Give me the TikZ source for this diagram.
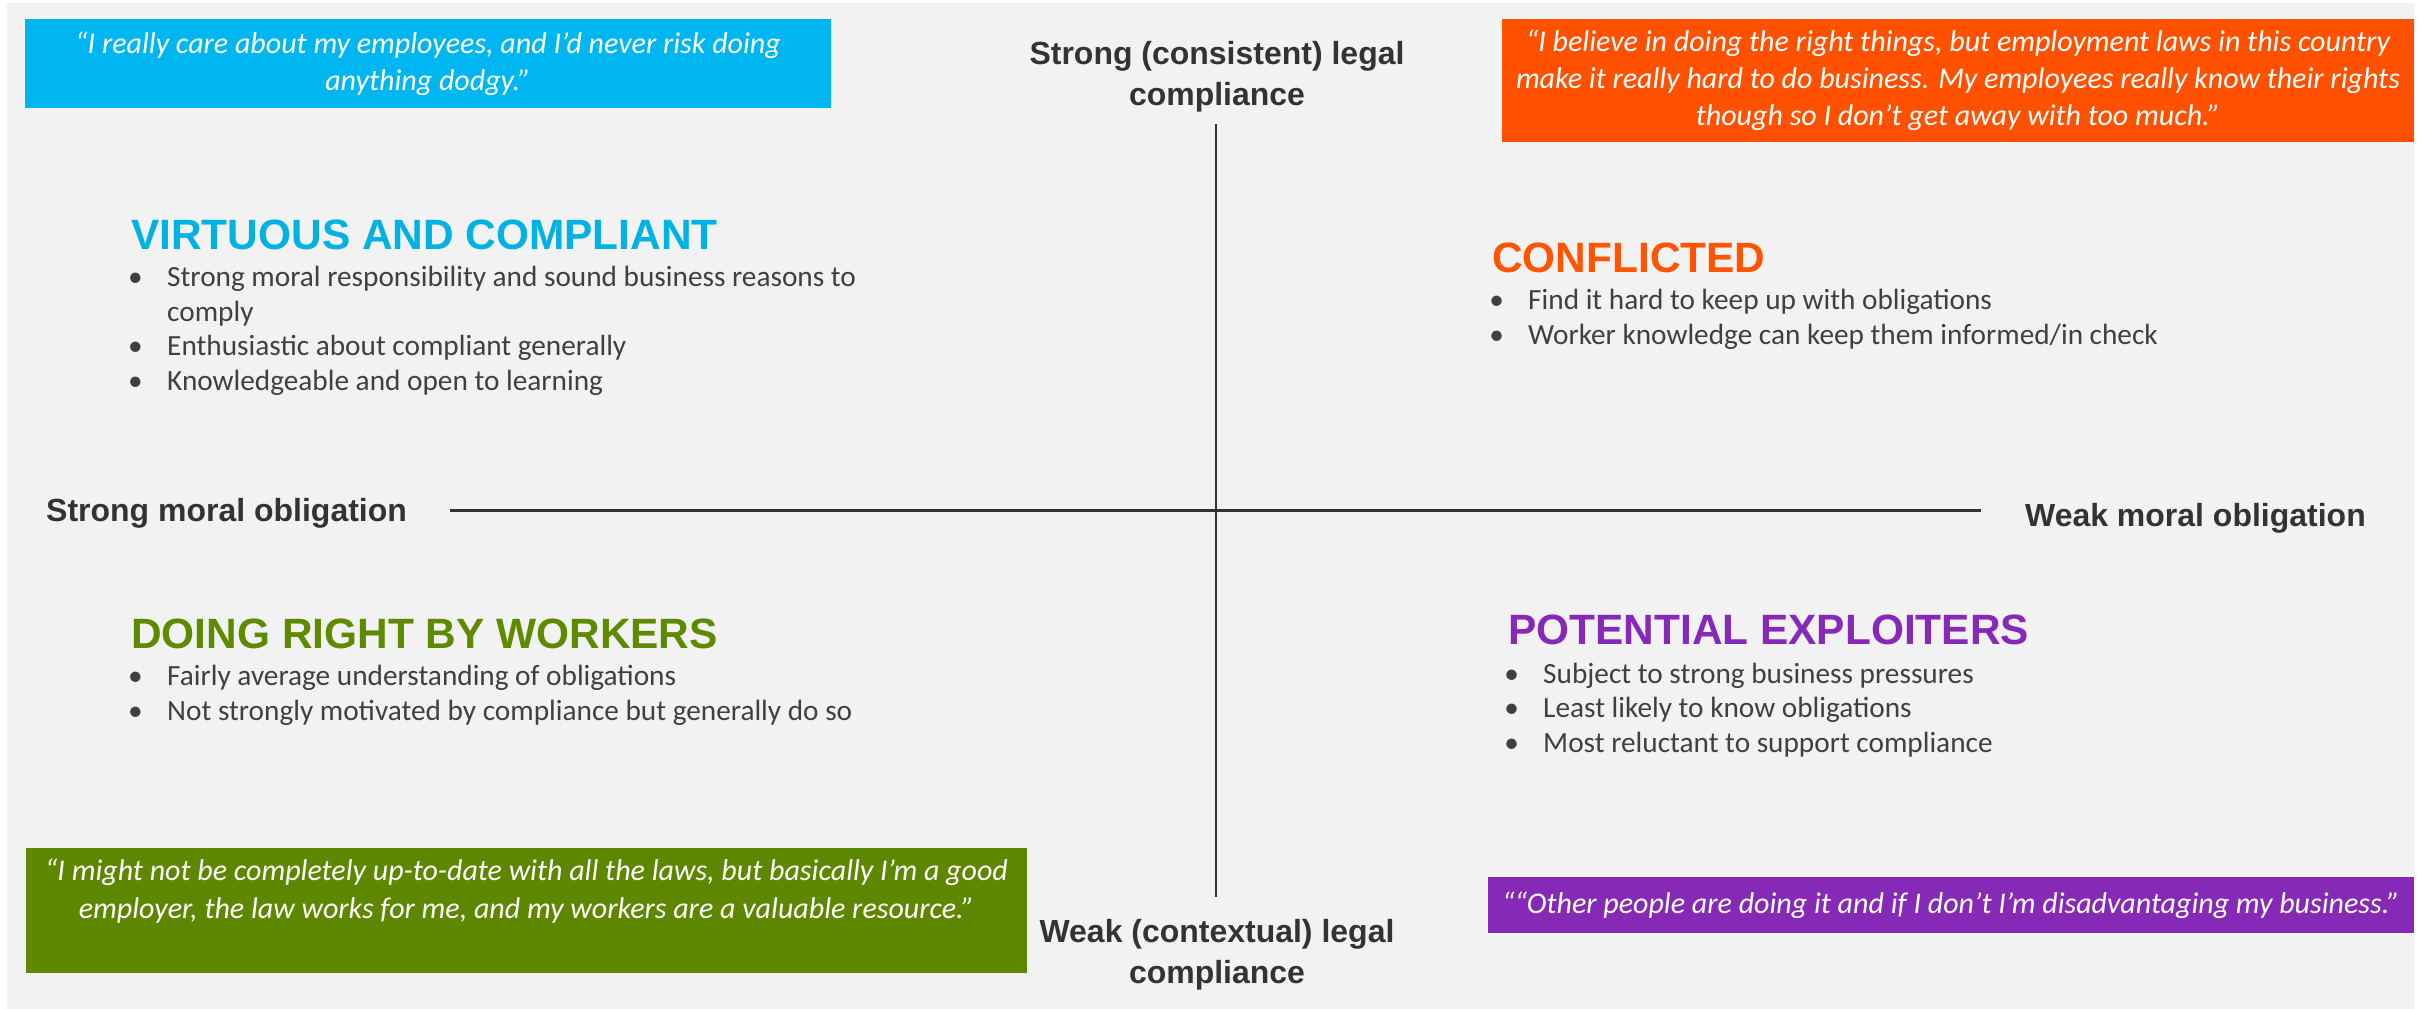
\documentclass[tikz,border=0pt]{standalone}
\usepackage{fontspec}
\setmainfont{Carlito}
\newfontfamily\headfont{Liberation Sans}
\usetikzlibrary{positioning}
\definecolor{Panel}{HTML}{F2F2F2}
\definecolor{Ink}{HTML}{404040}
\definecolor{Axis}{HTML}{333333}
\definecolor{QBlue}{HTML}{00B6F0}
\definecolor{QOrange}{HTML}{FF5100}
\definecolor{QGreen}{HTML}{5E8700}
\definecolor{QPurple}{HTML}{8529B6}
\definecolor{HBlue}{HTML}{00B2E4}
\definecolor{HOrange}{HTML}{FF5500}
\definecolor{HGreen}{HTML}{5E8A00}
\definecolor{HPurple}{HTML}{8629B8}
\newcommand\bul{\makebox[11.7mm][l]{•}}
\newcommand\cont{\hspace*{11.7mm}}

\begin{document}
\begin{tikzpicture}[x=0.3mm,y=-0.3mm,
  heading/.style={anchor=base west,inner sep=0pt,
    font=\headfont\bfseries\fontsize{36.2}{43}\selectfont},
  % base anchor of a list = baseline of its last line
  bullets/.style={anchor=base west,inner sep=0pt,align=left,text=Ink,
    font=\fontsize{25}{29.4}\selectfont},
  quotebox/.style={inner sep=0pt,text=white,align=center,
    font=\itshape\fontsize{25.6}{31.6}\selectfont},
  axislabel/.style={inner sep=0pt,align=center,text=Axis,
    font=\headfont\bfseries\fontsize{27.3}{35}\selectfont},
  axisline/.style={draw=Axis}
]
\useasboundingbox (0,0) rectangle (2425,1009);
\fill[Panel] (7,3) rectangle (2415,1009);

% quotes
\node[quotebox,fill=QBlue,minimum width=241.8mm,minimum height=26.7mm] (qblue) at (428,63.5)
  {“I really care about my employees, and I’d never risk doing\\anything dodgy.”};
\node[quotebox,fill=QOrange,minimum width=273.6mm,minimum height=36.9mm] (qorange) at (1958,80.5)
  {“I believe in doing the right things, but employment laws in this country\\make it really hard to do business. My employees really know their rights\\though so I don’t get away with too much.”};
\node[quotebox,fill=QGreen,minimum width=300.3mm,minimum height=37.5mm] (qgreen) at (526.5,910.5) {};
\node[quotebox,anchor=base] (qgreentext) at (526.5,918)
  {“I might not be completely up-to-date with all the laws, but basically I’m a good\\employer, the law works for me, and my workers are a valuable resource.”};
\node[quotebox,fill=QPurple,minimum width=277.8mm,minimum height=16.8mm] (qpurple) at (1951,905)
  {““Other people are doing it and if I don’t I’m disadvantaging my business.”};

% axes
\node[axislabel] (strongleg) at (1217,77) {Strong (consistent) legal\\compliance};
\node[axislabel] (weakleg) at (1217,955) {Weak (contextual) legal\\compliance};
\node[axislabel,anchor=west] (strongmor) at (46,513) {Strong moral obligation};
\node[axislabel,anchor=east] (weakmor) at (2366,518) {Weak moral obligation};
\coordinate (vtop) at (1216,124);
\coordinate (vbot) at (1216,897);
\coordinate (hleft) at (450,510);
\coordinate (hright) at (1981,510);
\draw[axisline,line width=0.5mm] (vtop)--(vbot);
\draw[axisline,line width=0.9mm] (hleft)--(hright);

% quadrants
\node[heading,text=HBlue] (virtuous) at (131,249) {VIRTUOUS AND COMPLIANT};
\node[bullets] (virtuouslist) at (128,390)
  {\bul Strong moral responsibility and sound business reasons to\\
   \cont comply\\
   \bul Enthusiastic about compliant generally\\
   \bul Knowledgeable and open to learning};
\node[heading,text=HOrange] (conflicted) at (1492,272) {CONFLICTED};
\node[bullets] (conflictedlist) at (1489,344)
  {\bul Find it hard to keep up with obligations\\
   \bul Worker knowledge can keep them informed/in check};
\node[heading,text=HGreen] (doingright) at (131,648) {DOING RIGHT BY WORKERS};
\node[bullets] (doingrightlist) at (128,720)
  {\bul Fairly average understanding of obligations\\
   \bul Not strongly motivated by compliance but generally do so};
\node[heading,text=HPurple] (exploiters) at (1508,644) {POTENTIAL EXPLOITERS};
\node[bullets] (exploiterslist) at (1504,752)
  {\bul Subject to strong business pressures\\
   \bul Least likely to know obligations\\
   \bul Most reluctant to support compliance};
\end{tikzpicture}
\end{document}
